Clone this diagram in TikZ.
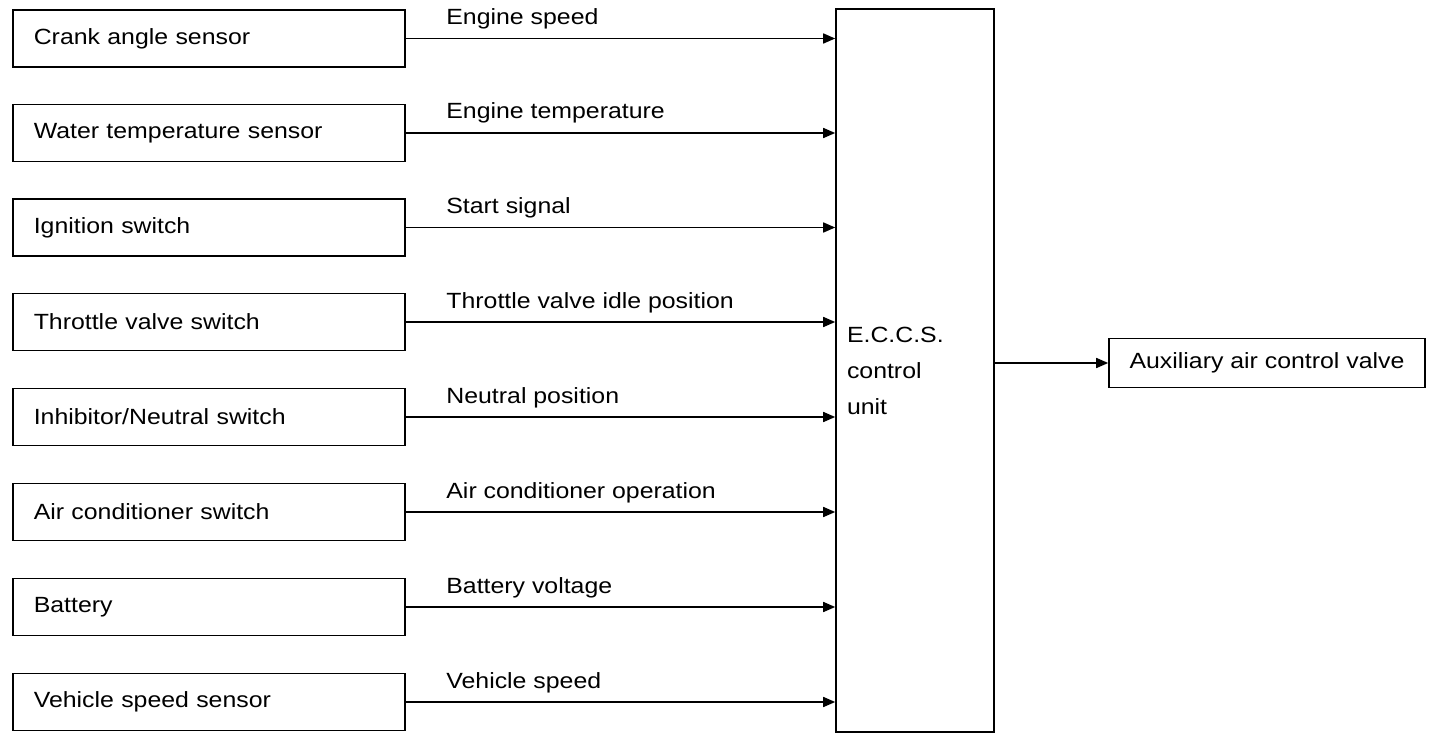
\documentclass[tikz,border=0pt]{standalone}
\usepackage{fontspec}
\setmainfont[FakeStretch=1.13]{Liberation Sans}
\usetikzlibrary{arrows.meta, positioning, calc}

\begin{document}
\begin{tikzpicture}[x=1pt, y=-1pt,
    sensor/.style={rectangle, draw, line width=1.6pt, anchor=west,
                   text width=350pt, align=left, inner xsep=21pt,
                   minimum height=57pt, font=\fontsize{22}{26}\selectfont},
    ecubox/.style={rectangle, draw, line width=1.6pt, text width=136pt, align=left,
                   inner xsep=11pt, minimum height=723pt, font=\fontsize{22}{36}\selectfont},
    valvebox/.style={rectangle, draw, line width=1.6pt, minimum width=316pt,
                     minimum height=49pt, font=\fontsize{22}{26}\selectfont},
    signal/.style={line width=1.6pt, -{Triangle[length=12pt, width=10pt]}},
    siglabel/.style={pos=0, anchor=base west, xshift=40pt, yshift=14pt, inner sep=0pt,
                     font=\fontsize{22}{26}\selectfont}
]
\useasboundingbox (0,0) rectangle (1456,746);

% Control unit and output
\node[ecubox] (ecu) at (915,370.5) {E.C.C.S.\\control\\unit};
\node[valvebox] (valve) at (1267,363) {Auxiliary air control valve};

% Input sensors and switches
\node[sensor] (crank) at (12,38.5) {Crank angle sensor};
\node[sensor] (water) at (12,133) {Water temperature sensor};
\node[sensor] (ign) at (12,227.5) {Ignition switch};
\node[sensor] (throttle) at (12,322) {Throttle valve switch};
\node[sensor] (inhib) at (12,417) {Inhibitor/Neutral switch};
\node[sensor] (aircon) at (12,512) {Air conditioner switch};
\node[sensor] (batt) at (12,607) {Battery};
\node[sensor] (vspeed) at (12,702) {Vehicle speed sensor};

% Signals
\draw[signal] (crank.east) -- (crank.east -| ecu.west) node[siglabel] {Engine speed};
\draw[signal] (water.east) -- (water.east -| ecu.west) node[siglabel] {Engine temperature};
\draw[signal] (ign.east) -- (ign.east -| ecu.west) node[siglabel] {Start signal};
\draw[signal] (throttle.east) -- (throttle.east -| ecu.west) node[siglabel] {Throttle valve idle position};
\draw[signal] (inhib.east) -- (inhib.east -| ecu.west) node[siglabel] {Neutral position};
\draw[signal] (aircon.east) -- (aircon.east -| ecu.west) node[siglabel] {Air conditioner operation};
\draw[signal] (batt.east) -- (batt.east -| ecu.west) node[siglabel] {Battery voltage};
\draw[signal] (vspeed.east) -- (vspeed.east -| ecu.west) node[siglabel] {Vehicle speed};

\draw[signal] (ecu.east |- valve.west) -- (valve.west);

\end{tikzpicture}
\end{document}
